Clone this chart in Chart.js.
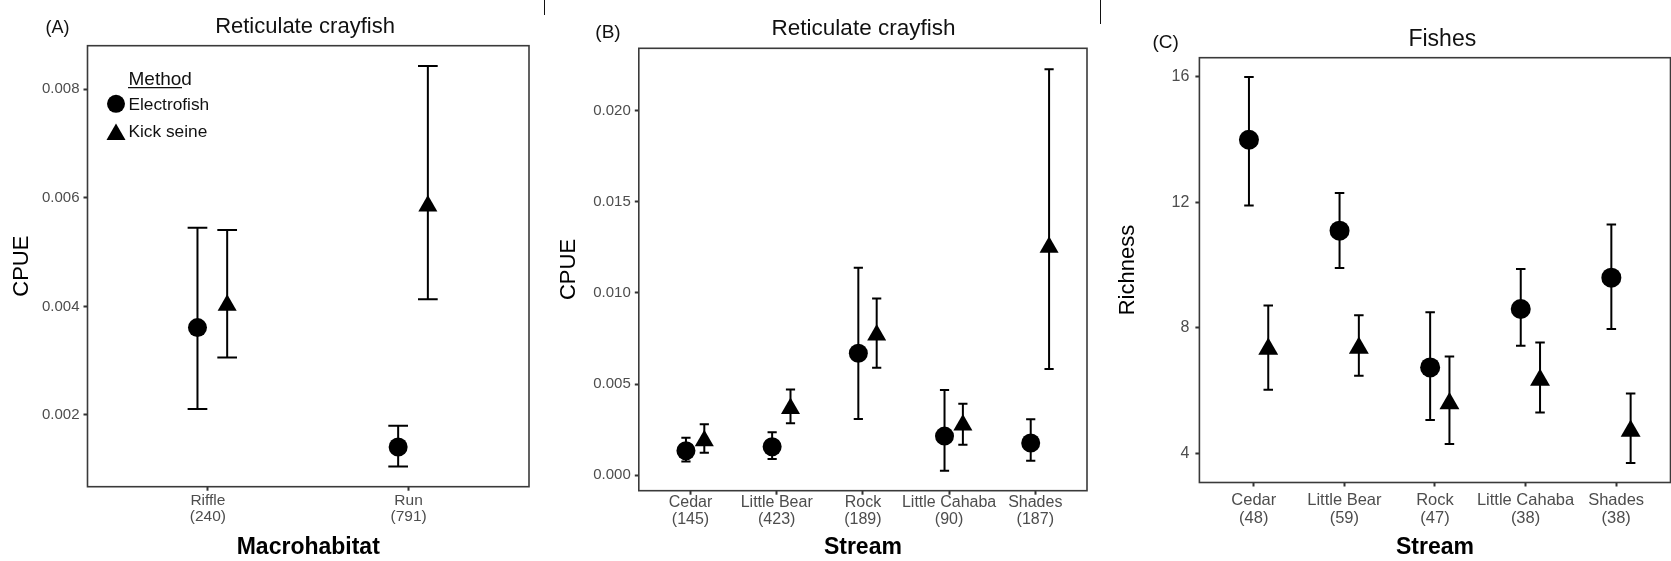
<!DOCTYPE html>
<html>
<head>
<meta charset="utf-8">
<script src="https://cdn.jsdelivr.net/npm/chart.js@4/dist/chart.umd.min.js"></script>
<style>
  html, body { margin: 0; padding: 0; background: #fff; width: 1671px; height: 561px; overflow: hidden; position: relative; }
  canvas { position: absolute; top: 0; }
  #cA { left: 0; }
  #cB { left: 546px; }
  #cC { left: 1102px; }
  .sep { position: absolute; top: 0; width: 1.6px; background: #111; }
</style>
</head>
<body>
<canvas id="cA" width="540" height="561"></canvas>
<canvas id="cB" width="552" height="561"></canvas>
<canvas id="cC" width="580" height="561"></canvas>
<div class="sep" style="left:543.5px;height:15px"></div>
<div class="sep" style="left:1099.5px;height:24px"></div>
<script>
// ---------- (A) Reticulate crayfish CPUE by macrohabitat ----------
const habitats = ['Riffle', 'Run'];
const habitatN = [240, 791];
const habElecMean = [0.00361, 0.00141];
const habElecLo   = [0.00211, 0.00105];
const habElecHi   = [0.00545, 0.00180];
const habKickMean = [0.00402, 0.00585];
const habKickLo   = [0.00306, 0.00413];
const habKickHi   = [0.00541, 0.00843];
const cpueTicksA  = [0.002, 0.004, 0.006, 0.008];
const cpueLabelsA = ['0.002', '0.004', '0.006', '0.008'];

// ---------- (B) Reticulate crayfish CPUE by stream ----------
const streams = ['Cedar', 'Little Bear', 'Rock', 'Little Cahaba', 'Shades'];
const crayN = [145, 423, 189, 90, 187];
const crayElecMean = [0.00135, 0.00157, 0.00669, 0.00215, 0.00177];
const crayElecLo   = [0.00075, 0.00089, 0.00309, 0.00025, 0.00080];
const crayElecHi   = [0.00206, 0.00236, 0.01138, 0.00468, 0.00307];
const crayKickMean = [0.00189, 0.00366, 0.00769, 0.00276, 0.01251];
const crayKickLo   = [0.00124, 0.00285, 0.00590, 0.00168, 0.00583];
const crayKickHi   = [0.00280, 0.00471, 0.00970, 0.00393, 0.02228];
const cpueTicksB  = [0, 0.005, 0.010, 0.015, 0.020];
const cpueLabelsB = ['0.000', '0.005', '0.010', '0.015', '0.020'];

// ---------- (C) Fish richness by stream ----------
const fishN = [48, 59, 47, 38, 38];
const fishElecMean = [14.0, 11.1, 6.74, 8.60, 9.60];
const fishElecLo   = [11.9, 9.91, 5.06, 7.43, 7.96];
const fishElecHi   = [16.0, 12.3, 8.50, 9.88, 11.3];
const fishKickMean = [7.33, 7.36, 5.59, 6.34, 4.71];
const fishKickLo   = [6.03, 6.47, 4.30, 5.30, 3.69];
const fishKickHi   = [8.71, 8.40, 7.09, 7.53, 5.91];
const richTicks  = [4, 8, 12, 16];
const richLabels = ['4', '8', '12', '16'];

const methods = ['Electrofish', 'Kick seine'];

const FONT = '"Liberation Sans", Arial, Helvetica, sans-serif';
const TICK_GREY = '#4d4d4d';

// Error bars, panel frame, panel title, tag letter and the method legend
const panelDecor = {
  id: 'panelDecor',
  beforeDatasetsDraw(chart, args, o) {
    const { ctx, scales: { y } } = chart;
    ctx.save();
    ctx.strokeStyle = '#000';
    ctx.lineWidth = 2;
    chart.data.datasets.forEach((d, di) => {
      chart.getDatasetMeta(di).data.forEach((pt, i) => {
        const px = pt.x;
        const yl = y.getPixelForValue(d.errLo[i]);
        const yh = y.getPixelForValue(d.errHi[i]);
        const hw = o.cap / 2;
        ctx.beginPath();
        ctx.moveTo(px, yl); ctx.lineTo(px, yh);
        ctx.moveTo(px - hw, yl); ctx.lineTo(px + hw, yl);
        ctx.moveTo(px - hw, yh); ctx.lineTo(px + hw, yh);
        ctx.stroke();
      });
    });
    ctx.restore();
  },
  afterDraw(chart, args, o) {
    const { ctx, chartArea: a } = chart;
    ctx.save();
    ctx.strokeStyle = '#3a3a3a';
    ctx.lineWidth = 1.6;
    ctx.strokeRect(a.left, a.top, a.right - a.left, a.bottom - a.top);

    ctx.fillStyle = '#111';
    ctx.textBaseline = 'alphabetic';
    ctx.textAlign = 'center';
    ctx.font = o.titleSize + 'px ' + FONT;
    ctx.fillText(o.title, o.titleX, o.titleY);
    ctx.font = o.tagSize + 'px ' + FONT;
    ctx.fillText(o.tag, o.tagX, o.tagY);

    const L = o.legend;
    if (L) {
      ctx.textAlign = 'left';
      ctx.font = L.headSize + 'px ' + FONT;
      ctx.fillText(L.head, L.textX, L.headY);
      ctx.strokeStyle = '#111';
      ctx.lineWidth = 1.3;
      ctx.beginPath();
      ctx.moveTo(L.textX - 0.5, L.headY + 2.7);
      ctx.lineTo(L.textX - 0.5 + L.underline, L.headY + 2.7);
      ctx.stroke();
      ctx.font = L.itemSize + 'px ' + FONT;
      chart.data.datasets.forEach((d, i) => {
        ctx.fillStyle = '#000';
        Chart.helpers.drawPoint(ctx, { pointStyle: d.pointStyle, radius: L.symR[i], rotation: 0, borderWidth: 0 }, L.symX, L.symY[i]);
        ctx.fillStyle = '#111';
        ctx.fillText(d.label, L.textX, L.textY[i]);
      });
    }
    ctx.restore();
  }
};

function series(label, style, radius, means, lo, hi, dx) {
  return {
    label: label,
    pointStyle: style,
    pointRadius: radius,
    pointHoverRadius: radius,
    pointBorderWidth: 0,
    backgroundColor: '#000',
    borderColor: '#000',
    data: means.map((v, i) => ({ x: i + 1 + dx, y: v })),
    errLo: lo,
    errHi: hi
  };
}

function panel(id, p) {
  const gridOpts = { display: true, drawOnChartArea: false, drawTicks: true, tickLength: 4, tickWidth: 2, tickColor: '#333' };
  return new Chart(document.getElementById(id), {
    type: 'scatter',
    data: {
      datasets: [
        series(methods[0], 'circle', p.circleR, p.elec[0], p.elec[1], p.elec[2], p.dodge[0]),
        series(methods[1], 'triangle', p.triR, p.kick[0], p.kick[1], p.kick[2], p.dodge[1])
      ]
    },
    options: {
      responsive: false,
      animation: false,
      devicePixelRatio: 1,
      events: [],
      layout: { padding: { top: p.padTop, right: p.padRight, bottom: 0, left: 0 } },
      plugins: {
        legend: { display: false },
        tooltip: { enabled: false },
        title: { display: false },
        panelDecor: p.decor
      },
      scales: {
        x: {
          type: 'linear',
          min: 0.4,
          max: p.cats.length + 0.6,
          afterFit: s => { s.height = p.xH; },
          afterBuildTicks: s => { s.ticks = p.cats.map((c, i) => ({ value: i + 1 })); },
          ticks: {
            callback: (v, i) => [p.cats[i], '(' + p.ns[i] + ')'],
            font: { family: FONT, size: p.xFont, lineHeight: p.xLine },
            color: TICK_GREY,
            padding: p.xPad,
            maxRotation: 0,
            minRotation: 0,
            autoSkip: false
          },
          grid: gridOpts,
          border: { display: false },
          title: {
            display: true,
            text: p.xTitle,
            color: '#000',
            font: { family: FONT, size: 23, weight: 'bold', lineHeight: 1.2 },
            padding: { top: 0, bottom: 0 }
          }
        },
        y: {
          type: 'linear',
          min: p.yMin,
          max: p.yMax,
          afterFit: s => { s.width = p.yW; },
          afterBuildTicks: s => { s.ticks = p.yTicks.map(v => ({ value: v })); },
          ticks: {
            callback: (v, i) => p.yLabels[i],
            font: { family: FONT, size: p.yFont },
            color: TICK_GREY,
            padding: p.yPad
          },
          grid: gridOpts,
          border: { display: false },
          title: {
            display: true,
            text: p.yTitle,
            color: '#000',
            font: { family: FONT, size: 22, lineHeight: 1.2 },
            padding: { top: p.yTitlePad, bottom: 0 }
          }
        }
      }
    },
    plugins: [panelDecor]
  });
}

// (A)
panel('cA', {
  cats: habitats, ns: habitatN,
  elec: [habElecMean, habElecLo, habElecHi],
  kick: [habKickMean, habKickLo, habKickHi],
  dodge: [-0.052, 0.096],
  circleR: 9.5, triR: 11,
  yMin: 0.000679, yMax: 0.008803, yTicks: cpueTicksA, yLabels: cpueLabelsA,
  yTitle: 'CPUE', xTitle: 'Macrohabitat',
  padTop: 45.7, padRight: 10.7, yW: 87.5, xH: 74.3,
  yFont: 15, yPad: 4, yTitlePad: 9,
  xFont: 15.5, xLine: '16px', xPad: 2,
  decor: {
    cap: 19.7,
    title: 'Reticulate crayfish', titleX: 305, titleY: 33.3, titleSize: 22,
    tag: '(A)', tagX: 57.5, tagY: 33, tagSize: 18,
    legend: {
      head: 'Method', headSize: 19, headY: 85, underline: 54,
      textX: 128.5, itemSize: 17.3, textY: [110, 136.7],
      symX: 116, symY: [103.8, 134.6], symR: [9, 11]
    }
  }
});

// (B)
panel('cB', {
  cats: streams, ns: crayN,
  elec: [crayElecMean, crayElecLo, crayElecHi],
  kick: [crayKickMean, crayKickLo, crayKickHi],
  dodge: [-0.053, 0.16],
  circleR: 9.5, triR: 11,
  yMin: -0.000845, yMax: 0.023423, yTicks: cpueTicksB, yLabels: cpueLabelsB,
  yTitle: 'CPUE', xTitle: 'Stream',
  padTop: 48.3, padRight: 3.2, yW: 92.8, xH: 70.3,
  yFont: 15, yPad: 4, yTitlePad: 9.8,
  xFont: 16, xLine: '16.7px', xPad: 0,
  decor: {
    cap: 9.2,
    title: 'Reticulate crayfish', titleX: 317.5, titleY: 35, titleSize: 22.5,
    tag: '(B)', tagX: 62, tagY: 37.7, tagSize: 19
  }
});

// (C)
panel('cC', {
  cats: streams, ns: fishN,
  elec: [fishElecMean, fishElecLo, fishElecHi],
  kick: [fishKickMean, fishKickLo, fishKickHi],
  dodge: [-0.053, 0.16],
  circleR: 10, triR: 11.5,
  yMin: 3.069, yMax: 16.615, yTicks: richTicks, yLabels: richLabels,
  yTitle: 'Richness', xTitle: 'Stream',
  padTop: 57.7, padRight: 7.5, yW: 97.4, xH: 78.5,
  yFont: 16, yPad: 6, yTitlePad: 13.1,
  xFont: 16.5, xLine: '17.6px', xPad: 5.5,
  decor: {
    cap: 9.5,
    title: 'Fishes', titleX: 340.3, titleY: 45.7, titleSize: 23,
    tag: '(C)', tagX: 63.6, tagY: 47.7, tagSize: 19
  }
});
</script>
</body>
</html>
